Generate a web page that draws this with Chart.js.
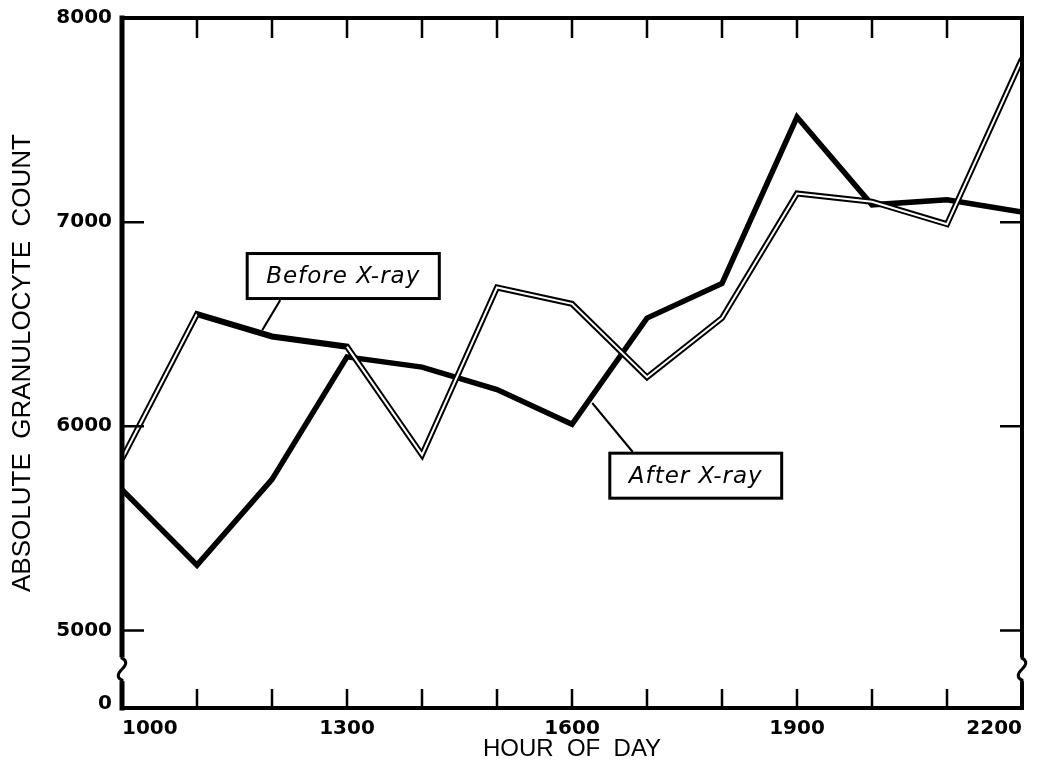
<!DOCTYPE html>
<html>
<head>
<meta charset="utf-8">
<script src="https://cdn.jsdelivr.net/npm/chart.js@4.4.1/dist/chart.umd.min.js"></script>
<style>
  html, body { margin: 0; background: #fff; }
  #wrap { width: 1040px; height: 772px; }
</style>
</head>
<body>
<div id="wrap"><canvas id="grafico"></canvas></div>
<script>
// hour of day
const hours = [1000, 1100, 1200, 1300, 1400, 1500, 1600, 1700, 1800, 1900, 2000, 2100, 2200];
// absolute granulocyte count
const beforeXray = [5840, 6550, 6440, 6390, 5860, 6680, 6600, 6240, 6530, 7140, 7100, 6990, 7800];
const afterXray = [5690, 5320, 5740, 6340, 6290, 6180, 6010, 6530, 6700, 7515, 7085, 7110, 7050];

const xTickLabels = [1000, 1300, 1600, 1900, 2200];
const yTickValues = [4640, 5000, 6000, 7000, 8000];
const yTickLabels = ['0', '5000', '6000', '7000', '8000'];
const yMarks = [5000, 6000, 7000, 8000];
const yMin = 4620;
const yBreak = 4810;

// boxed labels with a pointer to the line (data coords)
const callouts = [
  { text: 'Before X-ray', hour: 1295, value: 6736, fromHour: 1211, fromValue: 6618, toHour: 1187, toValue: 6471 },
  { text: 'After X-ray', hour: 1765, value: 5758, fromHour: 1681, fromValue: 5874, toHour: 1627, toValue: 6114 }
];

const toPoints = arr => hours.map((h, i) => ({ x: h, y: arr[i] }));

// frame, inward ticks, axis breaks, callouts
const framePlugin = {
  id: 'frame',
  afterDraw(chart) {
    const ctx = chart.ctx;
    const a = chart.chartArea;
    const xs = chart.scales.x;
    const ys = chart.scales.y;
    ctx.save();
    ctx.strokeStyle = '#000';
    ctx.lineCap = 'square';

    ctx.lineWidth = 4;
    ctx.strokeRect(a.left, a.top, a.right - a.left, a.bottom - a.top);
    ctx.lineWidth = 5;
    ctx.beginPath();
    ctx.moveTo(a.left, a.top);
    ctx.lineTo(a.left, a.bottom);
    ctx.stroke();

    // inward ticks
    ctx.lineWidth = 2.5;
    ctx.lineCap = 'butt';
    ctx.beginPath();
    hours.forEach(h => {
      const px = xs.getPixelForValue(h);
      ctx.moveTo(px, a.top);
      ctx.lineTo(px, a.top + 20);
      ctx.moveTo(px, a.bottom);
      ctx.lineTo(px, a.bottom - 19);
    });
    yMarks.forEach(v => {
      const py = ys.getPixelForValue(v);
      ctx.moveTo(a.left, py);
      ctx.lineTo(a.left + 22, py);
      ctx.moveTo(a.right, py);
      ctx.lineTo(a.right - 22, py);
    });
    ctx.stroke();

    // axis breaks
    const by = ys.getPixelForValue(yBreak);
    [a.left, a.right].forEach(bx => {
      ctx.fillStyle = '#fff';
      ctx.fillRect(bx - 4, by - 12, 8, 24);
      ctx.lineWidth = 3;
      ctx.beginPath();
      ctx.moveTo(bx, by - 14);
      ctx.lineTo(bx, by - 11);
      ctx.bezierCurveTo(bx + 6, by - 8, bx + 4, by - 4, bx, by);
      ctx.bezierCurveTo(bx - 4, by + 4, bx - 6, by + 8, bx, by + 11);
      ctx.lineTo(bx, by + 14);
      ctx.stroke();
    });

    // callouts
    ctx.font = 'italic 23px "DejaVu Sans"';
    ctx.letterSpacing = '1px';
    ctx.textAlign = 'center';
    ctx.textBaseline = 'middle';
    callouts.forEach(c => {
      ctx.lineWidth = 2;
      ctx.beginPath();
      ctx.moveTo(xs.getPixelForValue(c.fromHour), ys.getPixelForValue(c.fromValue));
      ctx.lineTo(xs.getPixelForValue(c.toHour), ys.getPixelForValue(c.toValue));
      ctx.stroke();
      const cx = xs.getPixelForValue(c.hour);
      const cy = ys.getPixelForValue(c.value);
      const w = ctx.measureText(c.text).width + 38;
      const h = 45;
      ctx.fillStyle = '#fff';
      ctx.fillRect(cx - w / 2, cy - h / 2, w, h);
      ctx.lineWidth = 3;
      ctx.strokeRect(cx - w / 2, cy - h / 2, w, h);
      ctx.fillStyle = '#000';
      ctx.fillText(c.text, cx, cy + 1);
    });
    ctx.restore();
  }
};

const ctx = document.getElementById('grafico').getContext('2d');
new Chart(ctx, {
  type: 'line',
  data: {
    datasets: [
      {
        label: 'Before X-ray',
        data: toPoints(beforeXray),
        borderColor: '#fff',
        borderWidth: 2,
        pointRadius: 0,
        tension: 0,
        segment: {
          borderColor: c => (c.p0.parsed.x >= 1100 && c.p1.parsed.x <= 1300) ? '#000' : '#fff'
        }
      },
      {
        label: 'Before X-ray outline',
        data: toPoints(beforeXray),
        borderColor: '#000',
        borderWidth: 6,
        pointRadius: 0,
        tension: 0
      },
      {
        label: 'After X-ray',
        data: toPoints(afterXray),
        borderColor: '#000',
        borderWidth: 5.5,
        pointRadius: 0,
        tension: 0
      }
    ]
  },
  options: {
    responsive: true,
    maintainAspectRatio: false,
    animation: false,
    layout: { padding: { top: 18, right: 18, left: 0, bottom: 0 } },
    plugins: {
      legend: { display: false },
      tooltip: { enabled: false }
    },
    scales: {
      x: {
        type: 'linear',
        min: 1000,
        max: 2200,
        afterFit: s => { s.height = 64; s.paddingLeft = 0; s.paddingRight = 0; },
        grid: { display: false, drawTicks: false },
        border: { display: false },
        ticks: {
          stepSize: 100,
          autoSkip: false,
          maxRotation: 0,
          align: 'inner',
          padding: 9,
          color: '#000',
          font: { family: 'DejaVu Sans', size: 20, weight: 'bold' },
          callback: v => xTickLabels.includes(v) ? String(v) : ''
        },
        title: {
          display: true,
          text: 'HOUR  OF  DAY',
          color: '#000',
          font: { family: 'Liberation Sans', size: 24 },
          padding: { top: 0, bottom: 8 }
        }
      },
      y: {
        min: yMin,
        max: 8000,
        afterFit: s => { s.width = 122; s.paddingTop = 0; s.paddingBottom = 0; },
        afterBuildTicks: s => { s.ticks = yTickValues.map(v => ({ value: v })); },
        grid: { display: false, drawTicks: false },
        border: { display: false },
        ticks: {
          padding: 10,
          color: '#000',
          font: { family: 'DejaVu Sans', size: 20, weight: 'bold' },
          callback: v => yTickLabels[yTickValues.indexOf(v)]
        },
        title: {
          display: true,
          text: 'ABSOLUTE  GRANULOCYTE  COUNT',
          color: '#000',
          font: { family: 'Liberation Sans', size: 26 },
          padding: { top: 7, bottom: 0 }
        }
      }
    }
  },
  plugins: [framePlugin]
});
</script>
</body>
</html>
